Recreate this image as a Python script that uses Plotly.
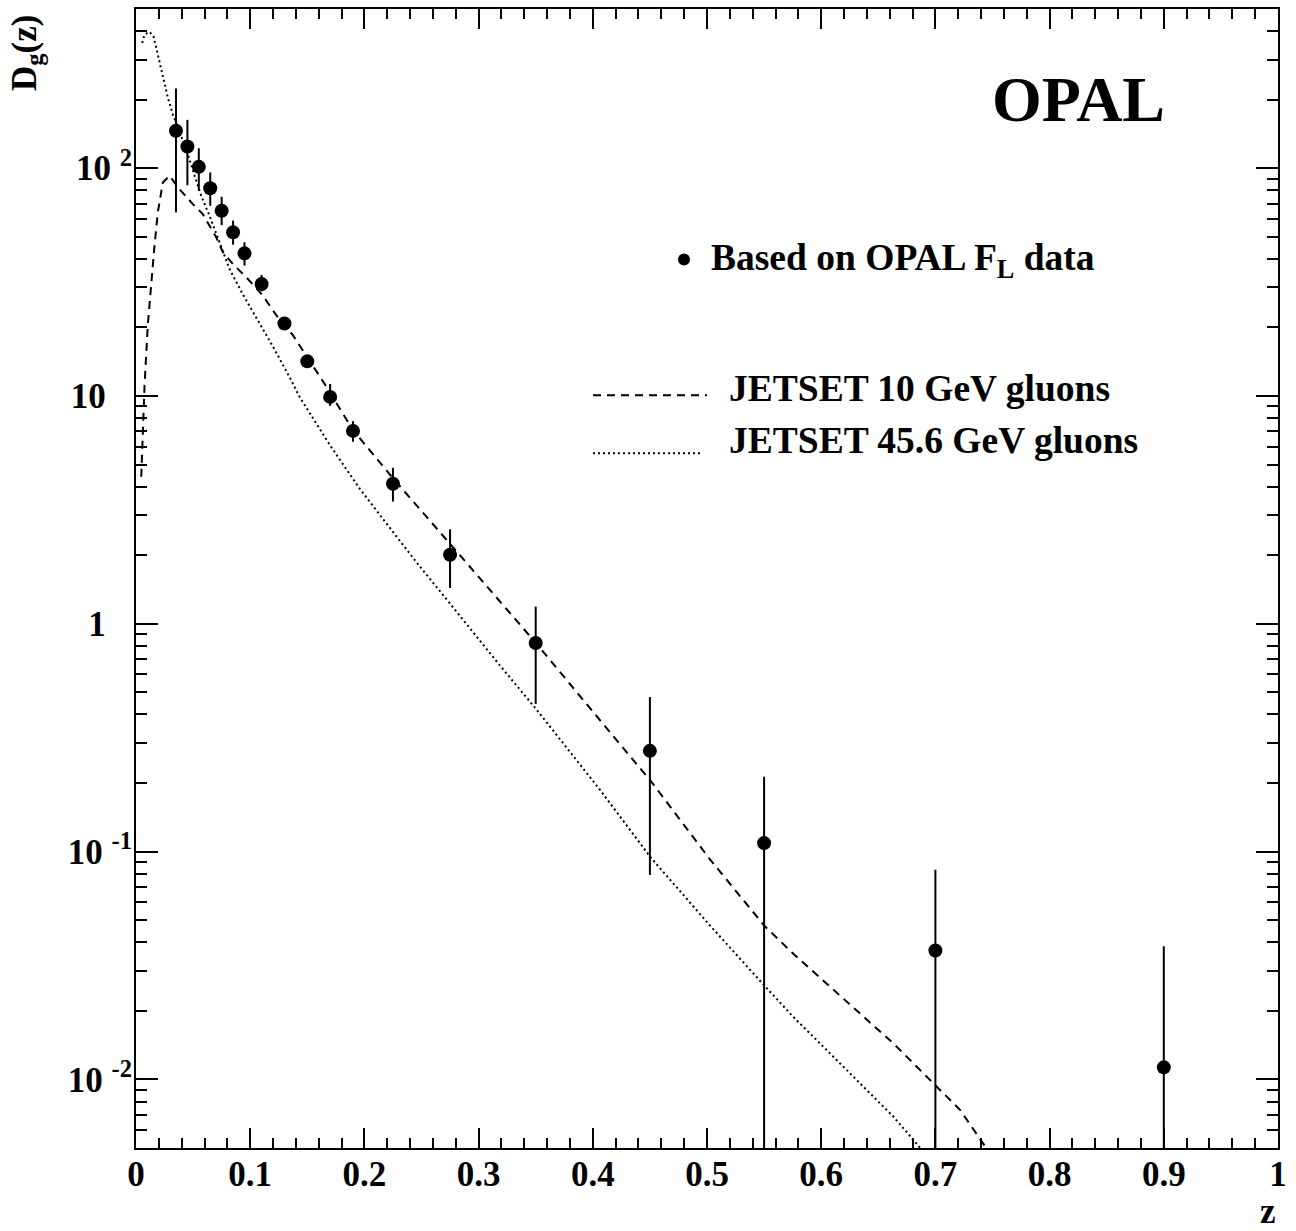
import plotly.graph_objects as go

# ---------------- data ----------------
# OPAL F_L based gluon fragmentation function points
z_data = [0.035, 0.045, 0.055, 0.065, 0.075, 0.085, 0.095, 0.11, 0.13, 0.15,
          0.17, 0.19, 0.225, 0.275, 0.35, 0.45, 0.55, 0.70, 0.90]
dg_data = [146, 124.5, 101.4, 81.7, 65.1, 52.3, 42.3, 31.0, 20.8, 14.2,
           9.91, 7.03, 4.12, 2.01, 0.824, 0.277, 0.109, 0.0368, 0.0113]
dg_high = [224, 163, 122.4, 95.8, 74.9, 58.9, 47.3, 34.0, 22.0, 15.0,
           11.3, 7.76, 4.84, 2.60, 1.19, 0.477, 0.213, 0.0833, 0.0384]
dg_low = [64.0, 84.2, 79.6, 68.4, 56.3, 46.2, 37.4, 28.8, 19.7, 13.4,
          9.05, 6.30, 3.44, 1.436, 0.445, 0.079, 0.0, 0.0, 0.0]

# JETSET 10 GeV gluons (dashed)
z_j10 = [0.0046, 0.0075, 0.0103, 0.0133, 0.0162, 0.0191, 0.0235, 0.0294, 0.0381,
         0.0498, 0.0585, 0.0703, 0.0761, 0.0848, 0.0966, 0.1111, 0.1229, 0.1374,
         0.1652, 0.19, 0.2251, 0.2748, 0.3501, 0.4238, 0.4507, 0.5026, 0.55,
         0.5756, 0.6049, 0.6341, 0.6633, 0.6998, 0.7217, 0.7445]
dg_j10 = [4.42, 11.15, 20.4, 31.6, 45.7, 64.0, 86.6, 92.6, 80.9,
          69.6, 62.9, 49.7, 42.8, 38.0, 33.2, 27.6, 22.6, 18.5,
          11.3, 7.09, 4.35, 2.25, 0.825, 0.296, 0.2044, 0.0925, 0.0474,
          0.0356, 0.0263, 0.01945, 0.01438, 0.00944, 0.00734, 0.0050]

# JETSET 45.6 GeV gluons (dotted)
z_j45 = [0.0054, 0.0075, 0.0118, 0.0153, 0.0177, 0.0206, 0.0235, 0.0279, 0.0323,
         0.044, 0.0513, 0.0571, 0.0644, 0.0732, 0.0819, 0.0936, 0.1082, 0.1199,
         0.1345, 0.1433, 0.1696, 0.1959, 0.2248, 0.2485, 0.2748, 0.3186, 0.3501,
         0.3843, 0.4062, 0.4507, 0.5026, 0.55, 0.5756, 0.6049, 0.6341, 0.6633,
         0.6867]
dg_j45 = [355, 386, 397, 380, 338, 295, 250, 204, 172,
          121, 92.6, 75.7, 61.9, 47.3, 36.1, 27.9, 20.9, 16.5,
          12.1, 9.90, 6.11, 3.92, 2.54, 1.785, 1.23, 0.657, 0.424,
          0.259, 0.187, 0.0943, 0.0474, 0.0259, 0.0188, 0.01344, 0.0096, 0.00686,
          0.0050]

x_tickvals = [0, 0.1, 0.2, 0.3, 0.4, 0.5, 0.6, 0.7, 0.8, 0.9, 1.0]
x_ticktext = ["0", "0.1", "0.2", "0.3", "0.4", "0.5", "0.6", "0.7", "0.8", "0.9", "1"]
y_tickvals = [0.01, 0.1, 1, 10, 100]
NB = "\u00a0"
y_ticktext = ["10" + NB + "<sup>-2</sup>", "10" + NB + "<sup>-1</sup>",
              "1" + NB * 3, "10" + NB * 3, "10" + NB + "<sup>2</sup>"]
y_minor = [m * 10 ** e for e in range(-3, 3) for m in range(2, 10)
           if 0.005 <= m * 10 ** e <= 500]

legend_labels = ["Based on OPAL F<sub>L</sub> data",
                 "JETSET 10 GeV gluons",
                 "JETSET 45.6 GeV gluons"]

# ---------------- layout helpers ----------------
FIG_W, FIG_H = 1296, 1231
L, R, T, B = 136, 18, 7, 83
W = FIG_W - L - R
H = FIG_H - T - B


def px(xp):
    return (xp - L) / W


def py(yp):
    return 1 - (yp - T) / H


FONT = "Liberation Serif, Times New Roman, serif"

err_plus = [h - v for h, v in zip(dg_high, dg_data)]
err_minus = [v - lo for v, lo in zip(dg_data, dg_low)]

fig = go.Figure()
fig.add_trace(go.Scatter(
    x=z_j10, y=dg_j10, mode="lines",
    line=dict(color="black", width=2, dash="8px,6px"),
    name=legend_labels[1], showlegend=False))
fig.add_trace(go.Scatter(
    x=z_j45, y=dg_j45, mode="lines",
    line=dict(color="black", width=2, dash="2px,3px"),
    name=legend_labels[2], showlegend=False))
fig.add_trace(go.Scatter(
    x=z_data, y=dg_data, mode="markers",
    marker=dict(color="black", size=14),
    error_y=dict(type="data", symmetric=False, array=err_plus,
                 arrayminus=err_minus, width=0, thickness=2, color="black"),
    name="Based on OPAL F_L data", showlegend=False))

axis_common = dict(
    showline=True, linewidth=2, linecolor="black", mirror="allticks",
    ticks="inside", tickwidth=2, tickcolor="black", showgrid=False,
    zeroline=False,
    tickfont=dict(family=FONT, size=35, color="black", weight="bold"),
)

fig.update_xaxes(
    range=[0, 1], tickmode="array", tickvals=x_tickvals, ticktext=x_ticktext,
    ticklen=20, ticklabelstandoff=-6,
    minor=dict(dtick=0.02, tick0=0, ticks="inside", ticklen=10, tickwidth=2,
               tickcolor="black", showgrid=False),
    **axis_common)
fig.update_yaxes(
    type="log", range=[-2.30103, 2.69897], tickmode="array",
    tickvals=y_tickvals, ticktext=y_ticktext, ticklen=22, ticklabelstandoff=-5,
    minor=dict(tickmode="array", tickvals=y_minor, ticks="inside", ticklen=11,
               tickwidth=2, tickcolor="black", showgrid=False),
    **axis_common)

LEG_SIZE = 37.5
annotations = [
    dict(text="OPAL", x=px(1078), y=py(98), xanchor="center", yanchor="middle",
         font=dict(family=FONT, size=64, color="black", weight="bold")),
    dict(text=legend_labels[0], x=px(709), y=py(259), xanchor="left", yanchor="middle",
         font=dict(family=FONT, size=LEG_SIZE, color="black", weight="bold")),
    dict(text=legend_labels[1], x=px(727), y=py(387), xanchor="left", yanchor="middle",
         font=dict(family=FONT, size=LEG_SIZE, color="black", weight="bold")),
    dict(text=legend_labels[2], x=px(727), y=py(439), xanchor="left", yanchor="middle",
         font=dict(family=FONT, size=LEG_SIZE, color="black", weight="bold")),
    dict(text="D<sub>g</sub>(z)", x=px(27), y=py(51), xanchor="center", yanchor="middle",
         textangle=-90,
         font=dict(family=FONT, size=35, color="black", weight="bold")),
    dict(text="z", x=px(1268), y=py(1212), xanchor="center", yanchor="middle",
         font=dict(family=FONT, size=35, color="black", weight="bold")),
]
for a in annotations:
    a.update(xref="paper", yref="paper", showarrow=False)

shapes = [
    dict(type="line", xref="paper", yref="paper", x0=px(593), x1=px(707),
         y0=py(394), y1=py(394), line=dict(color="black", width=2, dash="8px,6px")),
    dict(type="line", xref="paper", yref="paper", x0=px(593), x1=px(703),
         y0=py(452), y1=py(452), line=dict(color="black", width=2, dash="2px,3px")),
    dict(type="circle", xref="paper", yref="paper", x0=px(678), x1=px(690),
         y0=py(252), y1=py(264), fillcolor="black", line=dict(color="black", width=0)),
]

fig.update_layout(
    width=FIG_W, height=FIG_H,
    margin=dict(l=L, r=R, t=T, b=B, pad=0),
    paper_bgcolor="white", plot_bgcolor="white",
    showlegend=False, hovermode=False,
    annotations=annotations, shapes=shapes,
    font=dict(family=FONT, color="black"),
)

fig.write_html(
    "out.html",
    config={"displayModeBar": False, "staticPlot": True},
    post_script="document.body.style.margin='0px';document.body.style.padding='0px';",
)
